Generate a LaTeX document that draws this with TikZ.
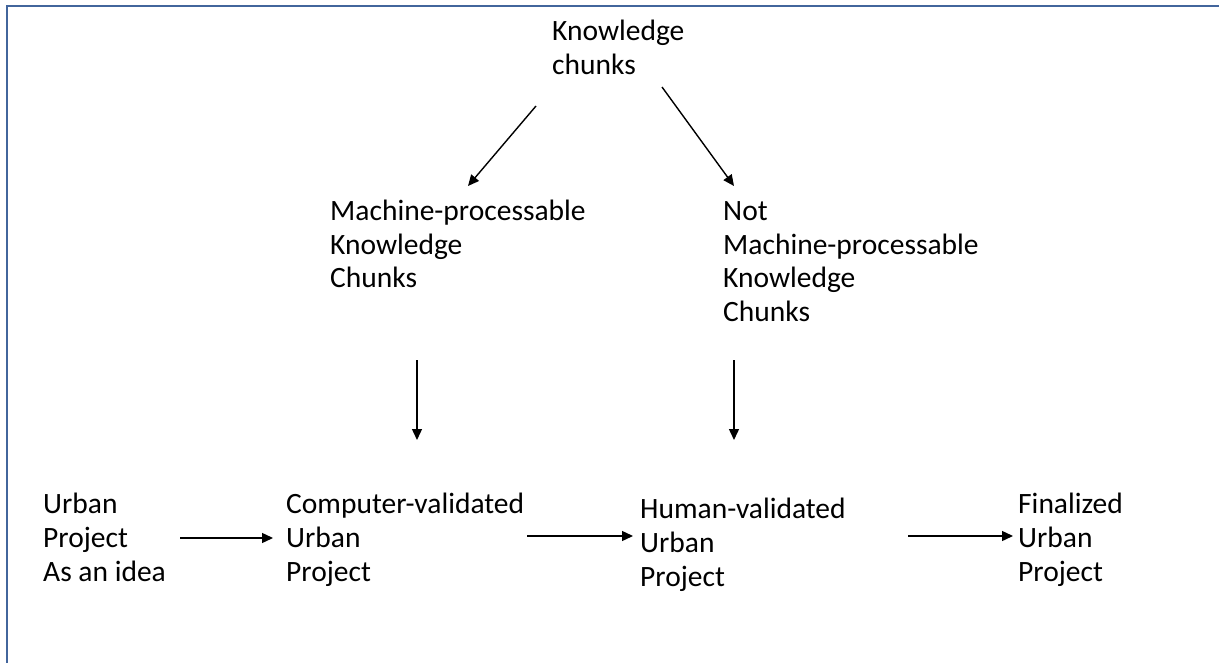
\documentclass[tikz,border=0pt]{standalone}
\usepackage{fontspec}
\setmainfont{Carlito}
\usepackage{xcolor}
\usetikzlibrary{arrows.meta,calc}
\definecolor{frameblue}{RGB}{66,101,156}

\begin{document}
\begin{tikzpicture}[x=1pt, y=-1pt,
  txt/.style={anchor=base west, align=left, inner sep=0pt,
              font=\fontsize{29.5}{34}\selectfont},
  arrow/.style={-{Triangle[length=11pt,width=10pt]}, line width=1.4pt},
  frame/.style={draw=frameblue, line width=2pt},
]
\useasboundingbox (0,0) rectangle (1219,663);
\draw[frame] (7,663) -- (7,6.5) -- (1219,6.5);

% base anchor = baseline of the last line
\node[txt] (know)  at (552,75)   {Knowledge\\chunks};
\node[txt] (mp)    at (330,288)  {Machine-processable\\Knowledge\\Chunks};
\node[txt] (nmp)   at (723,322)  {Not\\Machine-processable\\Knowledge\\Chunks};
\node[txt] (idea)  at (43,581)   {Urban\\Project\\As an idea};
\node[txt] (cval)  at (286,581)  {Computer-validated\\Urban\\Project};
\node[txt] (hval)  at (640,586)  {Human-validated\\Urban\\Project};
\node[txt] (final) at (1018,581) {Finalized\\Urban\\Project};

% arrow ends
\coordinate (kL)  at (536,106);
\coordinate (kR)  at (662,87);
\coordinate (mpT) at (468,186);
\coordinate (nmpT) at (734,186);
\coordinate (mpB) at (417,360);
\coordinate (cvT) at (417,440);
\coordinate (nmpB) at (734,360);
\coordinate (hvT) at (734,440);
\coordinate (i1) at (180,538);
\coordinate (i2) at (273,538);
\coordinate (c1) at (527,536);
\coordinate (c2) at (633,536);
\coordinate (h1) at (908,536);
\coordinate (h2) at (1013,536);

\foreach \a/\b in {kL/mpT, kR/nmpT, mpB/cvT, nmpB/hvT, i1/i2, c1/c2, h1/h2}{ \draw[arrow] (\a) -- (\b); }

\end{tikzpicture}
\end{document}
